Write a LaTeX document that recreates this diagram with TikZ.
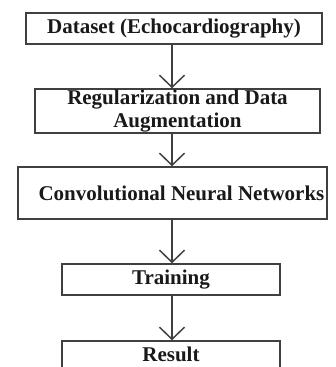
\documentclass[tikz,border=0pt]{standalone}
\usepackage{fontspec}
\setmainfont{Liberation Serif}
\usetikzlibrary{arrows.meta}
\begin{document}
\begin{tikzpicture}[x=1pt,y=-1pt,
  stagebox/.style={draw=black!75, line width=1.5pt, rectangle, inner sep=0pt,
    font=\fontsize{21}{23}\selectfont\bfseries, text=black!90, align=center},
  flow/.style={draw=black!75, line width=1.5pt,
    -{Straight Barb[length=12pt,width=25pt,line width=1.5pt]}}]
  % page frame
  \useasboundingbox (0,0) rectangle (336,367);
  % stages of the pipeline
  \node[stagebox, minimum width=296pt, minimum height=31pt] (b1) at (174,28.5)
    {Dataset (Echocardiography)};
  \node[stagebox, minimum width=285pt, minimum height=44pt] (b2) at (177.5,111)
    {Regularization and Data\\Augmentation};
  \node[stagebox, minimum width=309pt, minimum height=52pt] (b3) at (172.5,193)
    {\hspace*{18pt}Convolutional Neural Networks};
  \node[stagebox, minimum width=218pt, minimum height=31pt] (b4) at (171,279.5)
    {Training};
  % last box runs past the bottom edge; its text sits just above the edge
  \node[stagebox, minimum width=218pt, minimum height=31pt,
        text height=9pt, text depth=0pt] (b5) at (171,356.5)
    {Result};
  % vertical spine the arrows run along
  \coordinate (spine) at (172,0);
  \draw[flow] (b1.south -| spine) -- (b2.north -| spine);
  \draw[flow] (b2.south -| spine) -- (b3.north -| spine);
  \draw[flow] (b3.south -| spine) -- (b4.north -| spine);
  \draw[flow] (b4.south -| spine) -- (b5.north -| spine);
\end{tikzpicture}
\end{document}
